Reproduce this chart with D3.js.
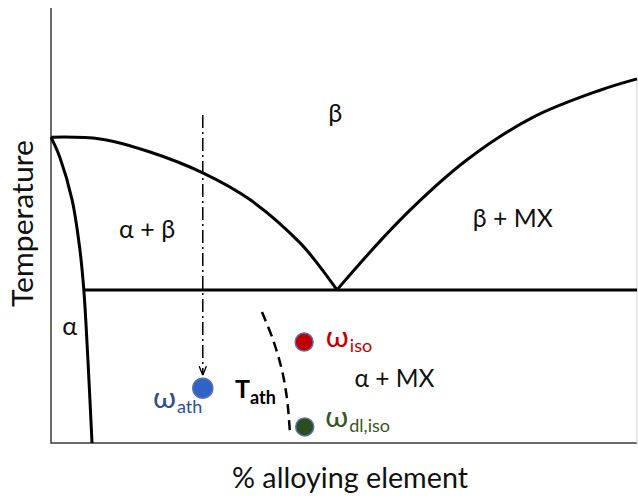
<!DOCTYPE html>
<html>
<head>
<meta charset="utf-8">
<script src="https://cdn.jsdelivr.net/npm/d3@7"></script>
<style>
  html, body { margin: 0; padding: 0; background: #fff; }
  svg { display: block; font-family: Lato, "Open Sans", sans-serif; }
</style>
</head>
<body>
<script>
// schematic phase diagram, values in % of axis range
// x = alloying element, y = temperature
var betaTransus = [[0, 70.3], [8.4, 69.9], [16.9, 66.9], [25.9, 62.1], [34.0, 55.9], [42.5, 46.0], [45.9, 40.5], [48.8, 35.2]];
var betaSolvus = [[48.8, 35.2], [59.6, 51.3], [71.0, 65.1], [82.3, 74.9], [93.7, 81.1], [100, 83.7]];
var alphaSolvus = [[0, 70.3], [1.5, 65.7], [3.6, 55.9], [4.9, 44.8], [5.6, 35.2], [6.3, 19.1], [7.0, 0]];
var eutectoid = [[5.6, 35.2], [100, 35.2]];
var quenchPath = [[25.9, 75.4], [25.9, 15.6]];
var tAthCurve = [[36.0, 30.1], [37.9, 23.7], [39.4, 16.8], [40.3, 9.9], [40.8, 1.8]];

// omega phase points
var omegaNames = ["ath", "iso", "dl,iso"];
var omegaX = [25.9, 43.2, 43.3];
var omegaY = [12.6, 23.2, 3.7];
var omegaLabelX = [17.4, 46.9, 46.8];
var omegaLabelY = [8.0, 22.1, 3.7];

// phase field labels
var regionLabels = ["β", "α + β", "β + MX", "α", "α + MX"];
var regionX = [48.5, 16.4, 78.8, 3.2, 58.6];
var regionY = [73.8, 47.1, 49.7, 24.8, 12.9];
var regionWidths = [14, 56, 80, 15, 80];

var omegaFill = ["#2f63c6", "#c00000", "#2c4d1d"];
var omegaText = ["#2f4f8f", "#c00000", "#385723"];

var svg = d3.select("body")
  .append("svg")
    .attr("width", 638)
    .attr("height", 496)

var x = d3.scaleLinear().domain([0, 100]).range([51, 637])
var y = d3.scaleLinear().domain([0, 100]).range([443, 8])

var line = d3.line().x(d => x(d[0])).y(d => y(d[1]))
var curve = d3.line().x(d => x(d[0])).y(d => y(d[1])).curve(d3.curveCatmullRom)

// arrow head for the quench line
svg.append("defs").append("marker")
    .attr("id", "arrow")
    .attr("viewBox", "0 0 10 10")
    .attr("refX", 10).attr("refY", 5)
    .attr("markerWidth", 9).attr("markerHeight", 9)
    .attr("markerUnits", "userSpaceOnUse")
    .attr("orient", "auto")
  .append("path")
    .attr("d", "M0,1 L10,5 L0,9")
    .style("fill", "none").style("stroke", "#000").style("stroke-width", 1.5)

// axes (no ticks, just the frame)
svg.append("path").attr("d", line([[0, 100], [0, 0], [100, 0]]))
  .style("fill", "none").style("stroke", "#3a3a3a").style("stroke-width", 1.5)
svg.append("path").attr("d", line([[100, 83.7], [100, 0]]))
  .style("fill", "none").style("stroke", "#d4d4d4").style("stroke-width", 1)

// phase boundaries
;[betaTransus, betaSolvus, alphaSolvus].forEach(function(pts) {
  svg.append("path").attr("d", curve(pts))
    .style("fill", "none").style("stroke", "#000").style("stroke-width", 3)
})
svg.append("path").attr("d", line(eutectoid))
  .style("fill", "none").style("stroke", "#000").style("stroke-width", 3)

// quench path, dash-dot with arrow
svg.append("path").attr("d", line(quenchPath))
  .style("fill", "none").style("stroke", "#000").style("stroke-width", 1.5)
  .style("stroke-dasharray", "13,4,2,4")
  .attr("marker-end", "url(#arrow)")

// T_ath dashed boundary
svg.append("path").attr("d", curve(tAthCurve))
  .style("fill", "none").style("stroke", "#000").style("stroke-width", 2.5)
  .style("stroke-dasharray", "10,6")

// omega points
svg.selectAll("circle.omega").data(omegaNames).enter().append("circle")
  .attr("class", "omega")
  .attr("cx", (d, i) => x(omegaX[i]))
  .attr("cy", (d, i) => y(omegaY[i]))
  .attr("r", (d, i) => i == 0 ? 10 : 9)
  .style("fill", (d, i) => omegaFill[i])
  .style("stroke", "#5a6fb0").style("stroke-width", 1.5)

// omega labels with subscripts
omegaNames.forEach(function(name, i) {
  var t = svg.append("text")
    .attr("x", x(omegaLabelX[i])).attr("y", y(omegaLabelY[i]))
    .style("fill", omegaText[i])
  t.append("tspan").text("ω").style("font-size", "28px")
    .attr("textLength", 23).attr("lengthAdjust", "spacingAndGlyphs")
  t.append("tspan").text(name).attr("dx", 1).attr("dy", 5).style("font-size", "18px")
})

// T_ath label
var tl = svg.append("text").attr("x", x(31.4)).attr("y", y(10.3))
  .style("font-weight", "bold").style("fill", "#000")
tl.append("tspan").text("T").style("font-size", "25px")
tl.append("tspan").text("ath").attr("dy", 6).style("font-size", "18px")

// phase fields
regionLabels.forEach(function(lab, i) {
  svg.append("text")
    .attr("x", x(regionX[i])).attr("y", y(regionY[i]))
    .attr("text-anchor", "middle")
    .attr("textLength", regionWidths[i])
    .attr("lengthAdjust", "spacingAndGlyphs")
    .style("font-size", "25px").style("fill", "#111")
    .text(lab)
})

// axis titles
svg.append("text").attr("x", 350).attr("y", 488)
  .attr("text-anchor", "middle")
  .attr("textLength", 236).attr("lengthAdjust", "spacingAndGlyphs")
  .style("font-size", "28px").style("fill", "#111")
  .text("% alloying element")
svg.append("text")
  .attr("transform", "translate(33,223.5) rotate(-90)")
  .attr("text-anchor", "middle")
  .attr("textLength", 167).attr("lengthAdjust", "spacingAndGlyphs")
  .style("font-size", "28px").style("fill", "#111")
  .text("Temperature")
</script>
</body>
</html>
